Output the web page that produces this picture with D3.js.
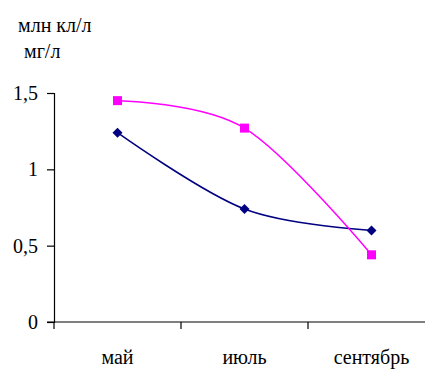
<!DOCTYPE html>
<html>
<head>
<meta charset="utf-8">
<script src="https://cdn.jsdelivr.net/npm/d3@7"></script>
</head>
<body style="margin:0;background:#fff">
<svg id="chart" width="425" height="370"></svg>
<script>
// Months on the category axis
const months = ["май", "июль", "сентябрь"];
// Series 1 (navy diamonds)
const seriesA = [1.24, 0.74, 0.60];
// Series 2 (magenta squares)
const seriesB = [1.45, 1.27, 0.44];
// Y tick values and labels
const yTicks = [0, 0.5, 1, 1.5];
const yTickLabels = ["0", "0,5", "1", "1,5"];
// Unit captions above the value axis
const unitLines = ["млн кл/л", "мг/л"];

const FONT = "Liberation Serif";
const FS = 20;
const svg = d3.select("#chart");
const plotLeft = 54, plotRight = 435, plotTop = 93, plotBottom = 322;

const x = d3.scaleBand().domain(months).range([plotLeft, plotRight]);
const y = d3.scaleLinear().domain([0, 1.5]).range([plotBottom, plotTop]);

// Value axis (lines only; labels drawn below)
const yAxis = d3.axisLeft(y)
  .tickValues(yTicks)
  .tickFormat("")
  .tickSize(7);
const gy = svg.append("g").attr("transform", `translate(${plotLeft},0)`).call(yAxis);
gy.select(".domain").attr("stroke", "#000").attr("stroke-width", 1.2);
gy.selectAll(".tick line").attr("stroke", "#000").attr("stroke-width", 1.2);
gy.selectAll(".tick text").remove();

svg.selectAll("text.ylab").data(yTicks).join("text").attr("class", "ylab")
  .attr("font-family", FONT).attr("font-size", FS)
  .attr("x", 38).attr("y", d => y(d)).attr("dy", "0.35em")
  .attr("text-anchor", "end")
  .text((d, i) => yTickLabels[i]);

// Category axis with ticks between categories
const xBounds = [plotLeft, plotLeft + x.step(), plotLeft + 2 * x.step()];
svg.append("line").attr("x1", 47).attr("x2", 425).attr("y1", plotBottom).attr("y2", plotBottom)
  .attr("stroke", "#000").attr("stroke-width", 1.2);
svg.selectAll("line.tk").data(xBounds).join("line").attr("class", "tk")
  .attr("x1", d => d).attr("x2", d => d).attr("y1", plotBottom).attr("y2", plotBottom + 7)
  .attr("stroke", "#000").attr("stroke-width", 1.2);
svg.selectAll("text.xlab").data(months).join("text").attr("class", "xlab")
  .attr("font-family", FONT).attr("font-size", FS)
  .attr("x", d => x(d) + x.bandwidth() / 2)
  .attr("y", 364)
  .attr("text-anchor", "middle")
  .text(d => d);

// Unit captions
svg.selectAll("text.unit").data(unitLines).join("text").attr("class", "unit")
  .attr("font-family", FONT).attr("font-size", FS)
  .attr("x", (d, i) => i === 0 ? 18 : 24)
  .attr("y", (d, i) => i === 0 ? 32 : 58)
  .text(d => d);

const cx = d => x(d) + x.bandwidth() / 2;
const line = d3.line().x(d => cx(d.m)).y(d => y(d.v)).curve(d3.curveCatmullRom.alpha(0));

const dataA = months.map((m, i) => ({ m, v: seriesA[i] }));
const dataB = months.map((m, i) => ({ m, v: seriesB[i] }));

svg.append("path").datum(dataA).attr("d", line)
  .attr("fill", "none").attr("stroke", "#000080").attr("stroke-width", 1.5);
svg.append("path").datum(dataB).attr("d", line)
  .attr("fill", "none").attr("stroke", "#FF00FF").attr("stroke-width", 1.5);

// Markers
svg.selectAll("path.diamond").data(dataA).join("path").attr("class", "diamond")
  .attr("d", d3.symbol(d3.symbolSquare, 50)())
  .attr("transform", d => `translate(${cx(d.m)},${y(d.v)}) rotate(45)`)
  .attr("fill", "#000080");
svg.selectAll("rect.sq").data(dataB).join("rect").attr("class", "sq")
  .attr("x", d => cx(d.m) - 4.5).attr("y", d => y(d.v) - 4.5)
  .attr("width", 9).attr("height", 9)
  .attr("fill", "#FF00FF");
</script>
</body>
</html>
